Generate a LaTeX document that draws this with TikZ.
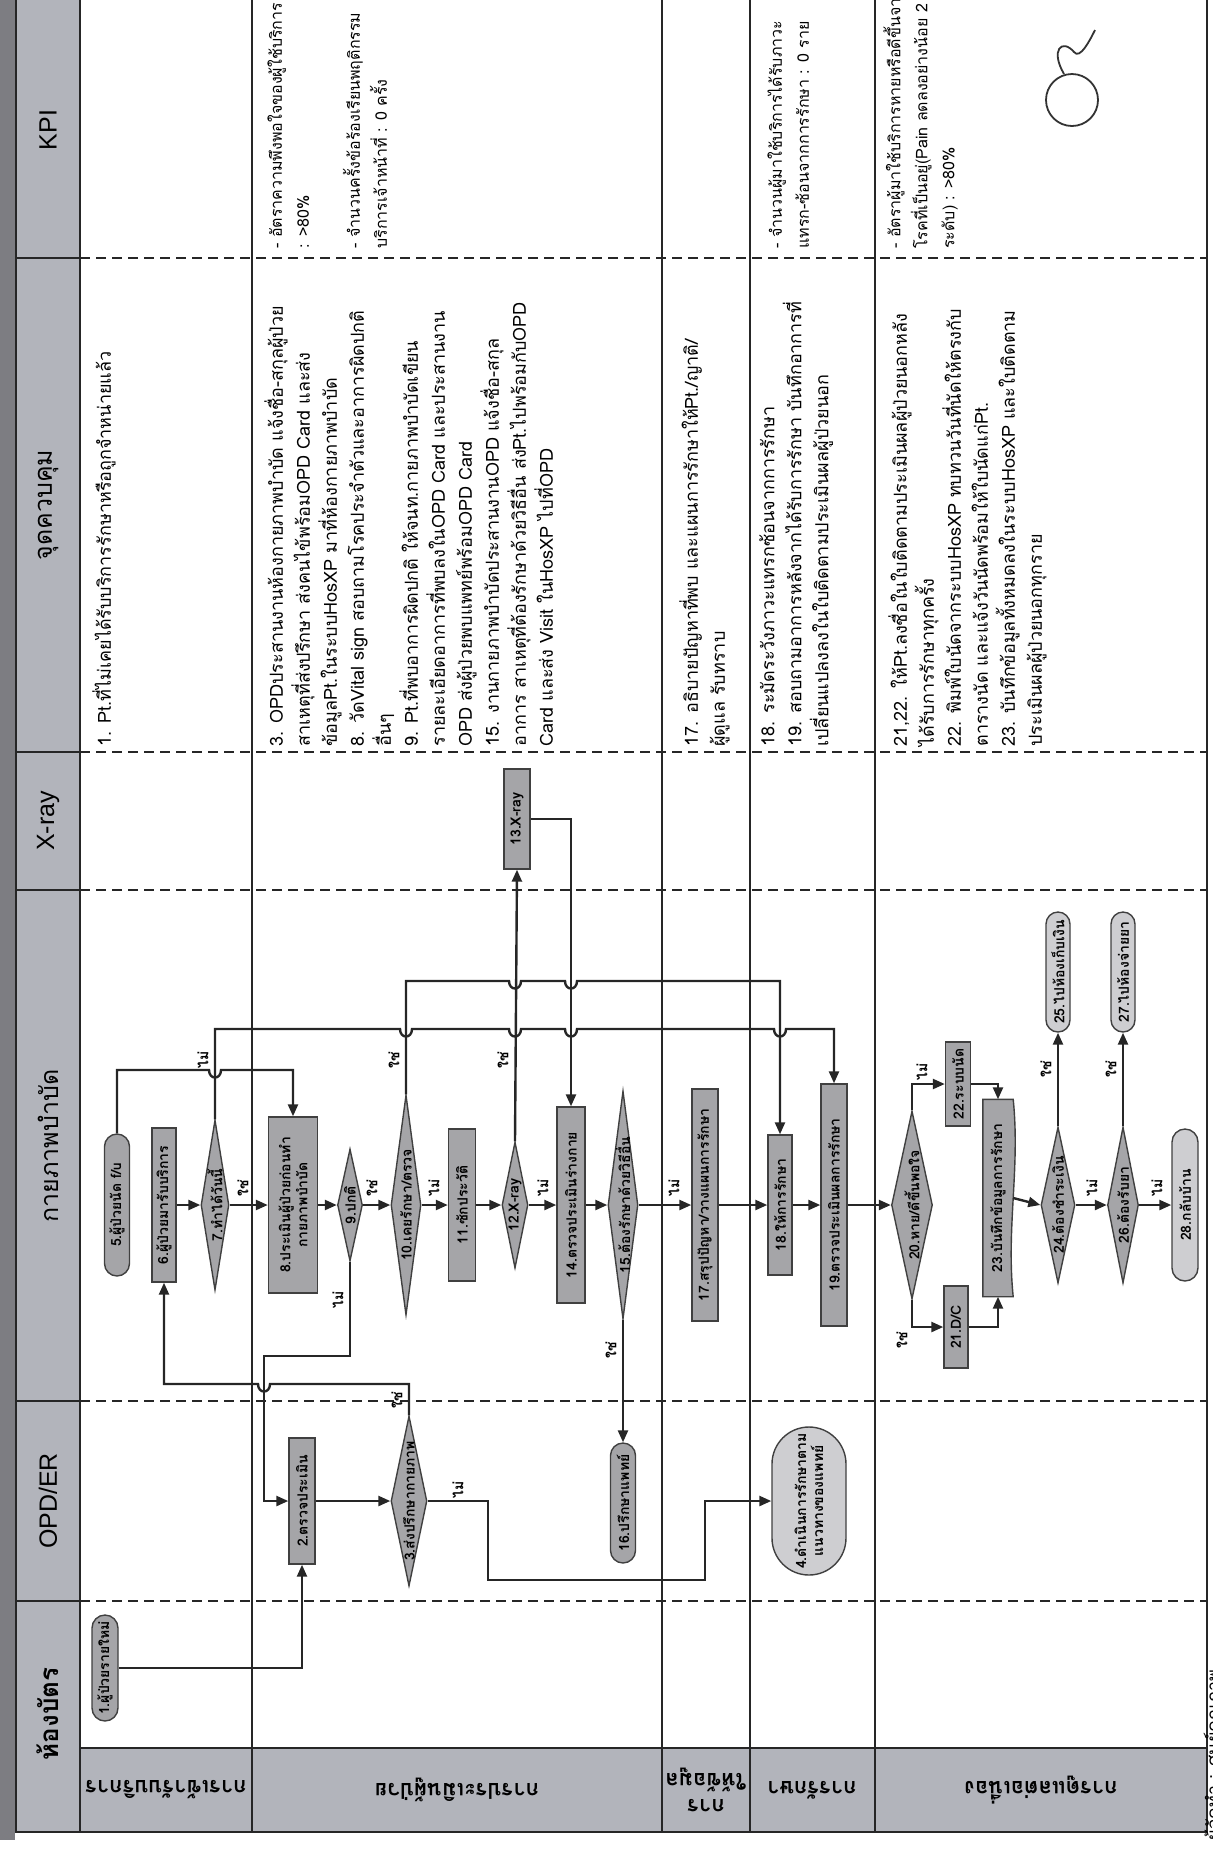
\documentclass[tikz,border=0pt]{standalone}
\usepackage{fontspec}
\setmainfont{Loma}[Script=Thai]
\newfontfamily\latinfont{Liberation Sans}
\usetikzlibrary{shapes.geometric,shapes.misc,arrows.meta,calc}
\definecolor{boxgray}{RGB}{165,165,168}
\definecolor{lightbox}{RGB}{206,206,209}
\definecolor{headgray}{RGB}{178,180,187}
\definecolor{stripgray}{RGB}{125,125,130}
\tikzset{
 tframe/.style={line width=1.1pt, black!85},
 laneline/.style={line width=0.9pt, black!85},
 bandline/.style={line width=1.1pt, black!85, dash pattern=on 5pt off 3pt},
 conn/.style={line width=1.2pt, black!85, -{Triangle[length=6pt,width=5pt]}},
 bx/.style={draw=black!75, line width=0.7pt, fill=boxgray, rotate=90, inner sep=1pt, font=\bfseries\fontsize{7}{8.5}\selectfont, align=center},
 proc/.style={bx, rectangle},
 term/.style={bx, rounded rectangle},
 dec/.style={draw=black!75, line width=0.7pt, fill=boxgray, diamond, rotate=90, inner sep=0pt},
 dtxt/.style={rotate=90, font=\bfseries\fontsize{7}{8.5}\selectfont, inner sep=0pt},
 yn/.style={rotate=90, font=\bfseries\fontsize{7}{8}\selectfont, inner sep=0pt},
 ctl/.style={rotate=90, anchor=north west, align=left, inner sep=0pt, font=\fontsize{9}{13.5}\selectfont},
 kpi/.style={ctl, font=\fontsize{8}{13.5}\selectfont},
 hdr/.style={rotate=90, font=\fontsize{12.5}{14}\selectfont},
 lanelab/.style={rotate=180, font=\bfseries\fontsize{11}{13}\selectfont, align=center},
}
\begin{document}
\begin{tikzpicture}[x=0.5pt,y=-0.5pt]
\useasboundingbox (0,0) rectangle (1212,1860);
% ---------- table ----------
\fill[stripgray] (0,0) rectangle (15,1840);
\fill[headgray] (16,0) rectangle (80,1832);
\fill[headgray] (80,1748) rectangle (1207,1832);
\foreach \yy in {258,752,890,1401,1601} {\draw[bandline] (80,\yy) -- (1207,\yy);}
\foreach \yy in {258,752,890,1401,1601} {\draw[laneline] (16,\yy) -- (80,\yy);}
\foreach \xx in {252,662,750,875} {\draw[laneline] (\xx,0) -- (\xx,1832);}
\draw[tframe] (16,0) -- (16,1832) -- (1207,1832) -- (1207,0);
\draw[tframe] (80,0) -- (80,1832);
\draw[tframe] (80,1748) -- (1207,1748);
% ---------- headers ----------
\node[hdr] (hkpi) at (48,130) {\latinfont KPI};
\node[hdr] (hctl) at (48,505) {จุดควบคุม};
\node[hdr] (hxr) at (48,821) {\latinfont X-ray};
\node[hdr] (hpt) at (48,1146) {กายภาพบำบัด};
\node[hdr] (hopd) at (48,1501) {\latinfont OPD/ER};
\node[hdr, font=\bfseries\fontsize{13}{15}\selectfont] (hcard) at (48,1714) {ห้องบัตร};
% ---------- lane labels ----------
\node[lanelab] (l1) at (166,1790) {การเข้ารับบริการ};
\node[lanelab] (l2) at (457,1790) {การประเมินผู้ป่วย};
\node[lanelab] (l3) at (706,1790) {การ\\ให้ข้อมูล};
\node[lanelab] (l4) at (812,1790) {การรักษา};
\node[lanelab] (l5) at (1041,1790) {การดูแลต่อเนื่อง};
% ---------- control points ----------
\node[ctl] (c1) at (92,747) {1. Pt.ที่ไม่เคยได้รับบริการรักษาหรือถูกจำหน่ายแล้ว};
\node[ctl] (c2) at (264,747) {3. OPDประสานงานห้องกายภาพบำบัด แจ้งชื่อ-สกุลผู้ป่วย\\
สาเหตุที่ส่งปรึกษา ส่งคนไข้พร้อมOPD Card และส่ง\\
ข้อมูลPt.ในระบบHosXP มาที่ห้องกายภาพบำบัด\\
8. วัดVital sign สอบถามโรคประจำตัวและอาการผิดปกติ\\
อื่นๆ\\
9. Pt.ที่พบอาการผิดปกติ ให้จนท.กายภาพบำบัดเขียน\\
รายละเอียดอาการที่พบลงในOPD Card และประสานงาน\\
OPD ส่งผู้ป่วยพบแพทย์พร้อมOPD Card\\
15. งานกายภาพบำบัดประสานงานOPD แจ้งชื่อ-สกุล\\
อาการ สาเหตุที่ต้องรักษาด้วยวิธีอื่น ส่งPt.ไปพร้อมกับOPD\\
Card และส่ง Visit ในHosXP ไปที่OPD};
\node[ctl] (c3) at (679,747) {17. อธิบายปัญหาที่พบ และแผนการรักษาให้Pt./ญาติ/\\ผู้ดูแล รับทราบ};
\node[ctl] (c4) at (759,747) {18. ระมัดระวังภาวะแทรกซ้อนจากการรักษา\\
19. สอบถามอาการหลังจากได้รับการรักษา บันทึกอาการที่\\
เปลี่ยนแปลงลงในใบติดตามประเมินผลผู้ป่วยนอก};
\node[ctl] (c5) at (888,747) {21,22. ให้Pt.ลงชื่อในใบติดตามประเมินผลผู้ป่วยนอกหลัง\\
ได้รับการรักษาทุกครั้ง\\
22. พิมพ์ใบนัดจากระบบHosXP ทบทวนวันที่นัดให้ตรงกับ\\
ตารางนัด และแจ้งวันนัดพร้อมให้ใบนัดแก่Pt.\\
23. บันทึกข้อมูลทั้งหมดลงในระบบHosXP และใบติดตาม\\
ประเมินผลผู้ป่วยนอกทุกราย};
% ---------- KPI ----------
\node[kpi] (k2) at (267,249) {- อัตราความพึงพอใจของผู้ใช้บริการ\\
: >80\%\\[12pt]
- จำนวนครั้งข้อร้องเรียนพฤติกรรม\\
บริการเจ้าหน้าที่ : 0 ครั้ง};
\node[kpi] (k4) at (767,249) {- จำนวนผู้มาใช้บริการได้รับภาวะ\\
แทรก-ซ้อนจากการรักษา : 0 ราย};
\node[kpi] (k5) at (883,249) {- อัตราผู้มาใช้บริการหายหรือดีขึ้นจาก\\
โรคที่เป็นอยู่(Pain ลดลงอย่างน้อย 2\\
ระดับ) : >80\%};
% signature mark
\draw[line width=0.9pt, black!80] (1072,100) circle[radius=26];
\draw[line width=0.9pt, black!80] (1064,74) .. controls (1050,50) and (1062,38) .. (1074,52) .. controls (1080,60) and (1090,40) .. (1095,30);
% footer
\node[rotate=90, font=\fontsize{9}{10}\selectfont] (foot) at (1214,1755) {ผู้จัดทำ : ศูนย์คุณภาพ};
% ---------- nodes ----------
\node[term, minimum width=55pt, minimum height=13pt] (b1) at (105,1668) {1.ผู้ป่วยรายใหม่};
\node[proc, minimum width=63pt, minimum height=13pt] (b2) at (302,1501) {2.ตรวจประเมิน};
\node[dec, minimum width=85pt, minimum height=18pt] (d3) at (409,1501) {};
\node[dtxt] (d3t) at (d3) {3.ส่งปรึกษากายภาพ};
\node[term, minimum width=76pt, minimum height=37pt, fill=lightbox] (b4) at (809,1501) {4.ดำเนินการรักษาตาม\\แนวทางของแพทย์};
\node[term, minimum width=73pt, minimum height=12.5pt] (b5) at (117,1205) {5.ผู้ป่วยนัด f/u};
\node[proc, minimum width=77pt, minimum height=12pt] (b6) at (164,1205) {6.ผู้ป่วยมารับบริการ};
\node[dec, minimum width=85pt, minimum height=14pt] (d7) at (215,1205) {};
\node[dtxt] (d7t) at (d7) {7.ทำได้วันนี้};
\node[proc, minimum width=88pt, minimum height=24.5pt] (b8) at (293,1205) {8.ประเมินผู้ป่วยก่อนทำ\\กายภาพบำบัด};
\node[dec, minimum width=56pt, minimum height=12.5pt] (d9) at (350,1205) {};
\node[dtxt] (d9t) at (d9) {9.ปกติ};
\node[dec, minimum width=110pt, minimum height=15pt] (d10) at (406,1205) {};
\node[dtxt] (d10t) at (d10) {10.เคยรักษา/ตรวจ};
\node[proc, minimum width=76pt, minimum height=13.5pt] (b11) at (462,1205) {11.ซักประวัติ};
\node[dec, minimum width=63pt, minimum height=13pt] (d12) at (515,1205) {};
\node[dtxt] (d12t) at (d12) {12.X-ray};
\node[proc, minimum width=50pt, minimum height=13pt] (b13) at (517,819) {13.X-ray};
\node[proc, minimum width=98pt, minimum height=14pt] (b14) at (571,1205) {14.ตรวจประเมินร่างกาย};
\node[dec, minimum width=114pt, minimum height=15pt] (d15) at (623,1205) {};
\node[dtxt] (d15t) at (d15) {15.ต้องรักษาด้วยวิธีอื่น};
\node[term, minimum width=62pt, minimum height=12.5pt] (b16) at (623,1503) {16.ปรึกษาแพทย์};
\node[proc, minimum width=116pt, minimum height=13pt] (b17) at (705,1205) {17.สรุปปัญหา/วางแผนการรักษา};
\node[proc, minimum width=70pt, minimum height=12pt] (b18) at (780,1205) {18.ให้การรักษา};
\node[proc, minimum width=121pt, minimum height=13pt] (b19) at (834,1205) {19.ตรวจประเมินผลการรักษา};
\node[dec, minimum width=94pt, minimum height=20.5pt] (d20) at (912,1205) {};
\node[dtxt] (d20t) at (d20) {20.หาย/ดีขึ้นพอใจ};
\node[proc, minimum width=41pt, minimum height=12pt] (b21) at (956,1327) {21.D/C};
\node[proc, minimum width=42pt, minimum height=12.5pt] (b22) at (958,1084) {22.ระบบนัด};
\path node[proc, minimum width=98pt, minimum height=14.5pt, draw=none, fill=none] (b23) at (998,1198) {};
\draw[draw=black!75, line width=0.7pt, fill=boxgray] (b23.north west) -- (b23.north east) -- (b23.south east)
  .. controls ($(b23.south east)!0.35!(b23.south west)+(7,0)$) and ($(b23.south east)!0.65!(b23.south west)+(-7,0)$) .. (b23.south west) -- cycle;
\node[dtxt] (b23t) at (b23) {23.บันทึกข้อมูลการรักษา};
\node[dec, minimum width=78pt, minimum height=17pt] (d24) at (1058,1205) {};
\node[dtxt] (d24t) at (d24) {24.ต้องชำระเงิน};
\node[term, minimum width=62pt, minimum height=12pt, fill=lightbox] (b25) at (1058,972) {25.ไปห้องเก็บเงิน};
\node[dec, minimum width=78pt, minimum height=15.5pt] (d26) at (1123,1205) {};
\node[dtxt] (d26t) at (d26) {26.ต้องรับยา};
\node[term, minimum width=62pt, minimum height=12pt, fill=lightbox] (b27) at (1123,972) {27.ไปห้องจ่ายยา};
\node[term, minimum width=78pt, minimum height=13pt, fill=lightbox] (b28) at (1185,1205) {28.กลับบ้าน};
% ---------- connectors ----------
\draw[conn] (b6.south) -- (d7.north);
\draw[conn] (d7.south) -- (b8.north);
\draw[conn] (b8.south) -- (d9.north);
\draw[conn] (d9.south) -- (d10.north);
\draw[conn] (d10.south) -- (b11.north);
\draw[conn] (b11.south) -- (d12.north);
\draw[conn] (d12.south) -- (b14.north);
\draw[conn] (b14.south) -- (d15.north);
\draw[conn] (d15.south) -- (b17.north);
\draw[conn] (b17.south) -- (b18.north);
\draw[conn] (b18.south) -- (b19.north);
\draw[conn] (b19.south) -- (d20.north);
\draw[conn] (b23.south) -- (d24.north);
\draw[conn] (d24.south) -- (d26.north);
\draw[conn] (d26.south) -- (b28.north);
\draw[conn] (b1.south) -| (b2.west);
\draw[conn] (b2.south) -- (d3.north);
\draw[conn] (d3.south) -- (488,1501) -- (488,1580) -- (705,1580) -- (705,1501) -- (b4.north);
\draw[conn] (d3.east) -- (409,1384) -- (270,1384) .. controls (270,1394) and (258,1394) .. (258,1384) -- (164,1384) -- (b6.west);
\draw[conn] (d9.west) -- (350,1356) -- (264,1356) -- (264,1501) -- (b2.north);
\draw[conn] (b5.east) -- (117,1070) -- (209,1070) .. controls (209,1080) and (221,1080) .. (221,1070) -- (293,1070) -- (b8.east);
\draw[conn] (d7.east) -- (215,1029)
  -- (400,1029) .. controls (400,1039) and (412,1039) .. (412,1029)
  -- (509,1029) .. controls (509,1039) and (521,1039) .. (521,1029)
  -- (565,1029) .. controls (565,1039) and (577,1039) .. (577,1029)
  -- (774,1029) .. controls (774,1039) and (786,1039) .. (786,1029)
  -- (834,1029) -- (b19.east);
\draw[conn] (d10.east) -- (406,981)
  -- (509,981) .. controls (509,991) and (521,991) .. (521,981)
  -- (565,981) .. controls (565,991) and (577,991) .. (577,981)
  -- (780,981) -- (b18.east);
\draw[conn] (d12.east) -- (b13.west);
\draw[conn] (b13.south) -- (571,819) -- (b14.east);
\draw[conn] (d15.west) -- (b16.east);
\draw[conn] (d20.east) -- (912,1084) -- (b22.north);
\draw[conn] (d20.west) -- (912,1327) -- (b21.north);
\draw[conn] (b22.south) -- (998,1084) -- (b23.east);
\draw[conn] (b21.south) -- (998,1327) -- (b23.west);
\draw[conn] (d24.east) -- (b25.west);
\draw[conn] (d26.east) -- (b27.west);
% ---------- yes/no labels ----------
\node[yn] (y1) at (243,1188) {ใช่};
\node[yn] (y2) at (372,1188) {ใช่};
\node[yn] (y3) at (434,1188) {ไม่};
\node[yn] (y4) at (543,1188) {ไม่};
\node[yn] (y5) at (674,1188) {ไม่};
\node[yn] (y6) at (1092,1188) {ไม่};
\node[yn] (y7) at (1157,1188) {ไม่};
\node[yn] (y8) at (203,1060) {ไม่};
\node[yn] (y9) at (394,1060) {ใช่};
\node[yn] (y10) at (503,1060) {ใช่};
\node[yn] (y11) at (338,1300) {ไม่};
\node[yn] (y12) at (397,1400) {ใช่};
\node[yn] (y13) at (458,1490) {ไม่};
\node[yn] (y14) at (611,1350) {ใช่};
\node[yn] (y15) at (922,1072) {ไม่};
\node[yn] (y16) at (902,1340) {ใช่};
\node[yn] (y17) at (1046,1069) {ใช่};
\node[yn] (y18) at (1111,1069) {ใช่};
\end{tikzpicture}
\end{document}
